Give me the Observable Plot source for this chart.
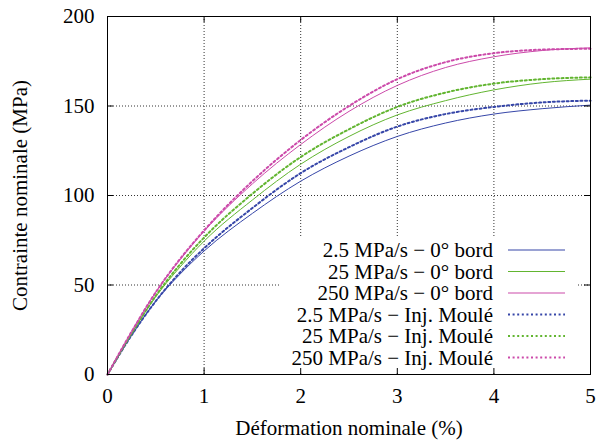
<!DOCTYPE html>
<html>
<head>
<meta charset="utf-8">
<script src="https://cdn.jsdelivr.net/npm/d3@7"></script>
<script src="https://cdn.jsdelivr.net/npm/@observablehq/plot@0.6"></script>
<style>
  html, body { margin: 0; padding: 0; background: #fff; }
  #chart svg { display: block; }
</style>
</head>
<body>
<div id="chart"></div>
<script>
// ---- data ----
const strain = [0, 0.25, 0.5, 0.75, 1, 1.5, 2, 2.5, 3, 3.5, 4, 4.5, 5];
const bord_2_5   = [0, 22, 41, 56, 69, 90, 108, 122, 133, 140.5, 145.5, 148.5, 150.5];
const bord_25    = [0, 23, 43.5, 60, 74.5, 97.5, 117.5, 133, 145, 153, 159, 163, 165];
const bord_250   = [0, 24, 46, 64, 80, 106.5, 128.5, 147, 161.5, 171.5, 177.5, 181, 182.5];
const moule_2_5  = [0, 22, 41, 57, 70.5, 93, 112.5, 127, 138.5, 145.5, 149.5, 152, 153];
const moule_25   = [0, 23, 44, 61.5, 76.5, 101, 121.5, 137, 149.5, 157.5, 162.5, 165, 166];
const moule_250  = [0, 24, 46, 64.5, 80.5, 108, 131, 150, 165, 174.5, 179.5, 181.5, 182];

const seriesNames = [
  "2.5 MPa/s \u2212 0\u00b0 bord",
  "25 MPa/s \u2212 0\u00b0 bord",
  "250 MPa/s \u2212 0\u00b0 bord",
  "2.5 MPa/s \u2212 Inj. Moul\u00e9",
  "25 MPa/s \u2212 Inj. Moul\u00e9",
  "250 MPa/s \u2212 Inj. Moul\u00e9"
];
const seriesValues = [bord_2_5, bord_25, bord_250, moule_2_5, moule_25, moule_250];
const seriesColors = ["#3646a8", "#62b530", "#cc4aaa", "#3646a8", "#62b530", "#cc4aaa"];
const seriesDotted = [false, false, false, true, true, true];

const xTicks = [0, 1, 2, 3, 4, 5];
const yTicks = [0, 50, 100, 150, 200];
const xGrid = [1, 2, 3, 4];
const yGrid = [50, 100, 150];

// ---- layout ----
const W = 597, H = 441;
const mL = 107, mR = 7, mT = 16, mB = 67;
const iw = W - mL - mR, ih = H - mT - mB;
const FONT = "Liberation Serif";
const FS = 21;

const rows = seriesNames.map((name, i) =>
  strain.map((x, j) => ({name, i, x, y: seriesValues[i][j]}))
);

function legendMark(index, scales, values, dims) {
  const g = d3.create("svg:g");
  const right = dims.width - dims.marginRight;
  const bottom = dims.height - dims.marginBottom;
  g.append("rect")
    .attr("x", right - 310).attr("y", bottom - 136)
    .attr("width", 298).attr("height", 135)
    .attr("fill", "white");
  seriesNames.forEach((name, i) => {
    const yy = bottom - 16.5 - (seriesNames.length - 1 - i) * 21.5;
    g.append("text")
      .attr("x", right - 97).attr("y", yy)
      .attr("dy", "0.35em")
      .attr("text-anchor", "end")
      .attr("font-family", FONT)
      .attr("font-size", FS)
      .attr("fill", "black")
      .text(name);
    g.append("line")
      .attr("x1", right - 82).attr("x2", right - 25)
      .attr("y1", yy).attr("y2", yy)
      .attr("stroke", seriesColors[i])
      .attr("stroke-width", seriesDotted[i] ? 2 : 1.2)
      .attr("stroke-dasharray", seriesDotted[i] ? "2,2.6" : null);
  });
  return g.node();
}

const marks = [
  Plot.ruleX(xGrid, {x: d => d, stroke: "#333", strokeWidth: 1, strokeDasharray: "1,2"}),
  Plot.ruleY(yGrid, {y: d => d, stroke: "#333", strokeWidth: 1, strokeDasharray: "1,2"}),
];
rows.forEach((r, i) => {
  marks.push(Plot.line(r, {
    x: "x", y: "y",
    stroke: seriesColors[i],
    strokeWidth: seriesDotted[i] ? 2 : 1,
    strokeDasharray: seriesDotted[i] ? "2,2.6" : null,
    curve: "monotone-x"
  }));
});
marks.push(legendMark);
// inward ticks on all four sides
marks.push(
  Plot.tickX(xTicks, {x: d => d, stroke: "black", insetTop: ih - 6}),
  Plot.tickX(xTicks, {x: d => d, stroke: "black", insetBottom: ih - 6}),
  Plot.tickY(yTicks, {y: d => d, stroke: "black", insetRight: iw - 6}),
  Plot.tickY(yTicks, {y: d => d, stroke: "black", insetLeft: iw - 6}),
  Plot.frame({stroke: "black", strokeWidth: 1}),
  Plot.axisX({ticks: xTicks, tickFormat: d3.format("d"), tickSize: 0, tickPadding: 14,
    fontFamily: FONT, fontSize: FS,
    label: "D\u00e9formation nominale (%)", labelAnchor: "center", labelOffset: 60, labelArrow: "none"}),
  Plot.axisY({ticks: yTicks, tickFormat: d3.format("d"), tickSize: 0, tickPadding: 13,
    fontFamily: FONT, fontSize: FS,
    label: "Contrainte nominale (MPa)", labelAnchor: "center", labelOffset: 95, labelArrow: "none"})
);

const chart = Plot.plot({
  width: W, height: H,
  marginLeft: mL, marginRight: mR, marginTop: mT, marginBottom: mB,
  style: {fontFamily: FONT, fontSize: FS + "px", background: "white", color: "black"},
  x: {domain: [0, 5]},
  y: {domain: [0, 200]},
  marks
});
document.getElementById("chart").appendChild(chart);
</script>
</body>
</html>
